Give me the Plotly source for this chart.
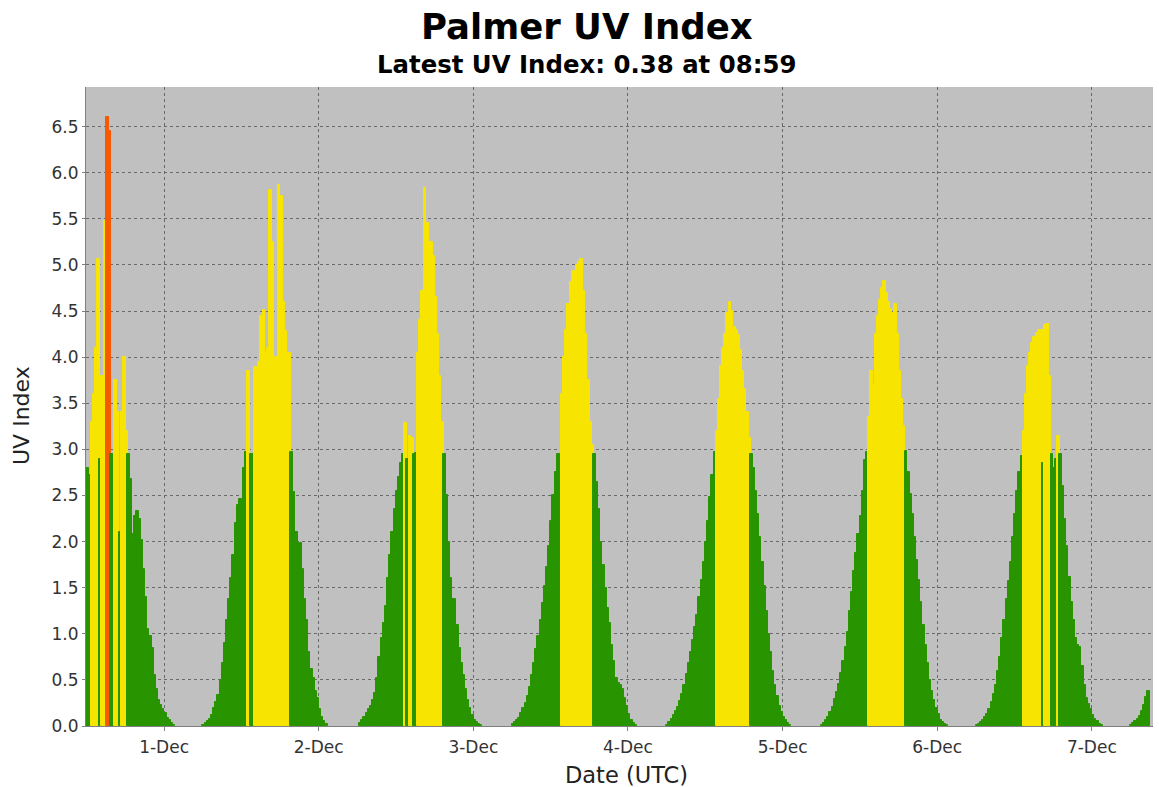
import pandas as pd
import plotly.graph_objects as go

# ---------------- data (UV index sampled every 20 minutes, UTC) ----------------
STEP_MIN = 20

start_nov30 = "2023-11-30 11:40"
uv_nov30 = [2.80, 2.80, 2.72, 3.30, 3.60, 4.10, 5.07, 2.90, 3.80, 5.48, 6.60, 6.45,
            2.95, 2.70, 3.75, 3.40, 2.10, 3.40, 4.00, 3.20, 2.95, 2.68, 2.08, 2.28,
            2.33, 2.25, 2.02, 1.70, 1.40, 1.05, 0.98, 0.85, 0.55, 0.40, 0.28, 0.23,
            0.18, 0.14, 0.09, 0.06, 0.03, 0.01]

start_dec01 = "2023-12-01 06:00"
uv_dec01 = [0.01, 0.03, 0.05, 0.08, 0.12, 0.20, 0.26, 0.34, 0.50, 0.68, 0.90, 1.15,
            1.38, 1.60, 1.85, 2.20, 2.40, 2.46, 2.42, 2.80, 2.97, 3.85, 2.95, 2.95,
            3.89, 3.85, 3.95, 4.45, 4.51, 4.05, 4.10, 5.81, 5.25, 3.90, 4.00, 5.87,
            5.75, 4.60, 4.28, 3.62, 4.05, 2.97, 2.54, 2.10, 1.90, 1.98, 1.70, 1.38,
            1.15, 0.80, 0.62, 0.52, 0.38, 0.30, 0.18, 0.10, 0.05, 0.02]

start_dec02 = "2023-12-02 06:20"
uv_dec02 = [0.03, 0.06, 0.10, 0.14, 0.18, 0.22, 0.28, 0.36, 0.52, 0.75, 0.95, 1.12,
            1.30, 1.60, 1.85, 2.10, 2.35, 2.55, 2.70, 2.85, 2.95, 3.29, 2.90, 3.15,
            3.12, 2.95, 2.96, 4.05, 4.40, 4.72, 5.83, 5.45, 5.05, 5.25, 5.10, 4.65,
            4.25, 3.80, 3.30, 2.95, 2.50, 2.00, 1.60, 1.38, 1.38, 1.10, 0.85, 0.68,
            0.55, 0.40, 0.28, 0.20, 0.12, 0.07, 0.04, 0.02, 0.01]

start_dec03 = "2023-12-03 06:00"
uv_dec03 = [0.02, 0.04, 0.06, 0.09, 0.14, 0.19, 0.25, 0.32, 0.42, 0.55, 0.68, 0.84,
            0.98, 1.15, 1.33, 1.52, 1.72, 1.95, 2.22, 2.50, 2.75, 2.95, 2.93, 3.60,
            4.00, 4.30, 4.58, 4.82, 4.93, 4.90, 5.00, 5.03, 5.06, 4.72, 4.25, 3.75,
            3.30, 3.05, 2.95, 2.65, 2.35, 2.00, 1.75, 1.50, 1.28, 1.12, 0.88, 0.70,
            0.52, 0.47, 0.45, 0.40, 0.30, 0.22, 0.13, 0.07, 0.03, 0.01]

start_dec04 = "2023-12-04 06:00"
uv_dec04 = [0.01, 0.04, 0.08, 0.12, 0.16, 0.21, 0.27, 0.35, 0.45, 0.56, 0.68, 0.80,
            0.93, 1.07, 1.20, 1.40, 1.58, 1.78, 2.00, 2.22, 2.48, 2.72, 2.97, 3.20,
            3.55, 3.90, 4.10, 4.25, 4.48, 4.60, 4.50, 4.33, 4.30, 4.24, 4.08, 3.85,
            3.65, 3.40, 3.12, 2.95, 2.80, 2.55, 2.30, 2.05, 1.78, 1.52, 1.25, 1.00,
            0.80, 0.60, 0.45, 0.32, 0.22, 0.15, 0.10, 0.06, 0.03, 0.01]

start_dec05 = "2023-12-05 06:00"
uv_dec05 = [0.01, 0.03, 0.06, 0.10, 0.15, 0.21, 0.29, 0.37, 0.46, 0.58, 0.70, 0.86,
            1.02, 1.25, 1.45, 1.68, 1.88, 2.08, 2.28, 2.55, 2.88, 2.97, 3.35, 3.85,
            3.70, 4.25, 4.45, 4.62, 4.75, 4.83, 4.70, 4.60, 4.52, 4.48, 4.58, 4.25,
            3.85, 3.55, 3.25, 2.98, 2.75, 2.52, 2.30, 2.05, 1.80, 1.58, 1.35, 1.10,
            0.88, 0.68, 0.50, 0.38, 0.28, 0.20, 0.13, 0.07, 0.04, 0.02, 0.01]

start_dec06 = "2023-12-06 06:00"
uv_dec06 = [0.01, 0.02, 0.04, 0.07, 0.10, 0.13, 0.18, 0.26, 0.35, 0.45, 0.60, 0.75,
            0.95, 1.15, 1.38, 1.57, 1.78, 2.05, 2.30, 2.55, 2.75, 2.93, 3.20, 3.60,
            3.90, 4.05, 4.15, 4.22, 4.26, 4.29, 4.30, 2.85, 4.35, 4.36, 3.80, 2.95,
            2.80, 2.90, 3.15, 2.95, 2.60, 2.25, 1.95, 1.62, 1.35, 1.15, 0.95, 0.88,
            0.86, 0.65, 0.45, 0.30, 0.24, 0.18, 0.12, 0.08, 0.05, 0.02, 0.01]

start_dec07 = "2023-12-07 06:00"
uv_dec07 = [0.01, 0.03, 0.05, 0.08, 0.11, 0.16, 0.23, 0.31, 0.38]

tick_dates = ["2023-12-01", "2023-12-02", "2023-12-03", "2023-12-04",
              "2023-12-05", "2023-12-06", "2023-12-07"]
tick_labels = ["1-Dec", "2-Dec", "3-Dec", "4-Dec", "5-Dec", "6-Dec", "7-Dec"]
y_ticks = [0.0, 0.5, 1.0, 1.5, 2.0, 2.5, 3.0, 3.5, 4.0, 4.5, 5.0, 5.5, 6.0, 6.5]

GREEN, YELLOW, ORANGE = "#289500", "#F7E400", "#F85900"

segments = [(start_nov30, uv_nov30), (start_dec01, uv_dec01), (start_dec02, uv_dec02),
            (start_dec03, uv_dec03), (start_dec04, uv_dec04), (start_dec05, uv_dec05),
            (start_dec06, uv_dec06), (start_dec07, uv_dec07)]

xs, ys = [], []
for start, vals in segments:
    t = pd.date_range(start, periods=len(vals), freq=f"{STEP_MIN}min") + pd.Timedelta(minutes=STEP_MIN / 2)
    xs.extend(list(t))
    ys.extend(vals)

colors = [ORANGE if v >= 6 else (YELLOW if v >= 3 else GREEN) for v in ys]

# bars slightly wider than the sampling step so adjacent bars overlap (no hairline gaps)
fig = go.Figure(go.Bar(
    x=xs, y=ys, width=STEP_MIN * 60 * 1000 * 1.3,
    marker=dict(color=colors, line=dict(width=1, color=colors)),
    hoverinfo="x+y",
))

fig.update_layout(
    width=1159, height=787,
    margin=dict(l=86, r=6, t=87, b=61),
    paper_bgcolor="white", plot_bgcolor="#c0c0c0",
    bargap=0, showlegend=False,
    font=dict(family="DejaVu Sans", color="#222222"),
)

fig.update_xaxes(
    type="date", range=["2023-11-30 11:53", "2023-12-07 09:30"],
    tickvals=tick_dates, ticktext=tick_labels,
    ticks="outside", ticklen=4, tickcolor="#808080", ticklabelstandoff=2,
    showgrid=True, gridcolor="#6a6a6a", griddash="3px,3px", gridwidth=1,
    showline=True, linecolor="#808080", linewidth=1, zeroline=False,
    tickfont=dict(family="DejaVu Sans", size=17, color="#333333"),
)
fig.update_yaxes(
    range=[0, 6.93], tickvals=y_ticks, ticktext=[f"{v:.1f}" for v in y_ticks],
    ticks="outside", ticklen=3, tickcolor="#808080",
    showgrid=True, gridcolor="#6a6a6a", griddash="3px,3px", gridwidth=1,
    showline=True, linecolor="#808080", linewidth=1, zeroline=False,
    tickfont=dict(family="DejaVu Sans", size=17, color="#333333"),
)

fig.add_annotation(text="<b>Palmer UV Index</b>", xref="paper", yref="paper",
                   x=0.4695, y=1.0947, xanchor="center", yanchor="middle", showarrow=False,
                   font=dict(family="DejaVu Sans", size=35.5, color="#000000"))
fig.add_annotation(text="<b>Latest UV Index: 0.38 at 08:59</b>", xref="paper", yref="paper",
                   x=0.469, y=1.0349, xanchor="center", yanchor="middle", showarrow=False,
                   font=dict(family="DejaVu Sans", size=24.4, color="#000000"))
fig.add_annotation(text="UV Index", xref="paper", yref="paper", textangle=-90,
                   x=-0.06, y=0.4867, xanchor="center", yanchor="middle", showarrow=False,
                   font=dict(family="DejaVu Sans", size=22, color="#222222"))
fig.add_annotation(text="Date (UTC)", xref="paper", yref="paper",
                   x=0.507, y=-0.0767, xanchor="center", yanchor="middle", showarrow=False,
                   font=dict(family="DejaVu Sans", size=22.5, color="#222222"))

fig.write_html("out.html")
